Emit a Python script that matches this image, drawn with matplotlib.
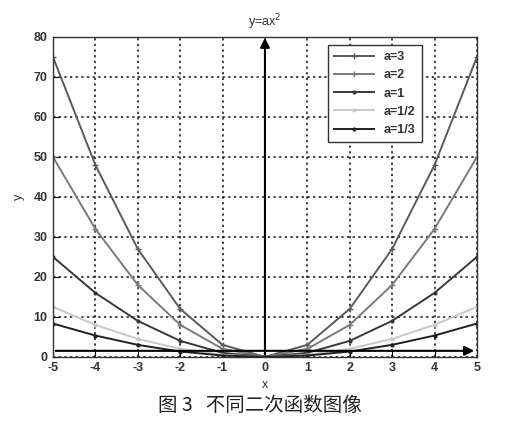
import matplotlib
matplotlib.use("Agg")
import matplotlib.pyplot as plt

plt.rcParams['font.family'] = ['Liberation Sans', 'DejaVu Sans']
plt.rcParams['axes.unicode_minus'] = False

x_vals = [-5, -4, -3, -2, -1, 0, 1, 2, 3, 4, 5]
labels = ["a=3", "a=2", "a=1", "a=1/2", "a=1/3"]
y_a3 = [75, 48, 27, 12, 3, 0, 3, 12, 27, 48, 75]
y_a2 = [50, 32, 18, 8, 2, 0, 2, 8, 18, 32, 50]
y_a1 = [25, 16, 9, 4, 1, 0, 1, 4, 9, 16, 25]
y_a12 = [12.5, 8, 4.5, 2, 0.5, 0, 0.5, 2, 4.5, 8, 12.5]
y_a13 = [8.33, 5.33, 3, 1.33, 0.33, 0, 0.33, 1.33, 3, 5.33, 8.33]
series = [y_a3, y_a2, y_a1, y_a12, y_a13]
colors = ["#5a5a5a", "#7a7a7a", "#383838", "#c8c8c8", "#202020"]
markers = ["+", "+", ".", ".", "."]

fig = plt.figure(figsize=(5.19, 4.40), dpi=100)
ax = fig.add_axes([0.102, 0.189, 0.817, 0.727])

for ys, lab, col, mk in zip(series, labels, colors, markers):
    ax.plot(x_vals, ys, color=col, marker=mk, markersize=4, linewidth=1.4, label=lab)

ax.set_xlim(-5, 5)
ax.set_ylim(0, 80)
ax.set_xticks(range(-5, 6))
ax.set_yticks(range(0, 81, 10))
ax.grid(True, color="#111111", linestyle=(0, (1.5, 2.2)), linewidth=1.1)
for sp in ax.spines.values():
    sp.set_linewidth(1.0)
    sp.set_color("#333333")
ax.tick_params(labelsize=9, length=4, direction="in", pad=4)
for t in ax.get_xticklabels() + ax.get_yticklabels():
    t.set_fontweight("bold")
    t.set_color("#333333")

ax.set_xlabel("x", fontsize=9, labelpad=3, color="#333333")
ax.set_ylabel("y", fontsize=9, labelpad=6, color="#333333")
ax.set_title("y=ax$^2$", fontsize=9, pad=8, color="#333333")

# axis arrows
ax.annotate("", xy=(5.0, 1.5), xytext=(-5, 1.5),
            arrowprops=dict(arrowstyle="-|>", color="black", lw=1.5, mutation_scale=14),
            annotation_clip=False)
ax.annotate("", xy=(0, 80.5), xytext=(0, 0),
            arrowprops=dict(arrowstyle="-|>", color="black", lw=1.5, mutation_scale=14),
            annotation_clip=False)

leg = ax.legend(loc="upper right", bbox_to_anchor=(0.885, 0.995),
                prop={"size": 9, "weight": "bold"},
                fancybox=False, framealpha=1, edgecolor="#333333",
                handlelength=3.2, borderpad=0.5, labelspacing=0.5)
leg.get_frame().set_linewidth(1.0)
for t in leg.get_texts():
    t.set_color("#333333")

fig.text(0.5, 0.078, "图 3   不同二次函数图像", ha="center", va="center",
         fontsize=14, family=["Noto Sans CJK SC", "DejaVu Sans"], color="#222222")

fig.savefig("out.png", dpi=100)
